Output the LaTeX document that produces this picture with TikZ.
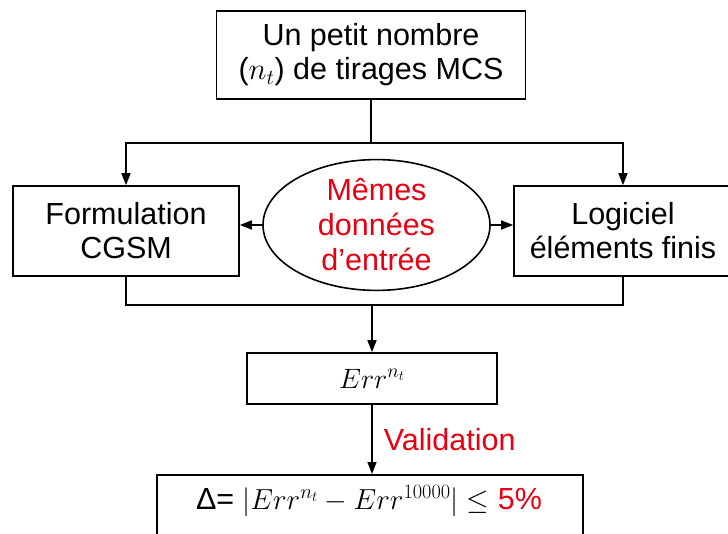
\RequirePackage{fix-cm}
\documentclass[tikz,border=0pt]{standalone}
\usepackage[no-math]{fontspec}
\setmainfont{Liberation Sans}
\usetikzlibrary{arrows.meta,shapes.geometric}
\definecolor{txtred}{RGB}{230,0,18}
\begin{document}
\begin{tikzpicture}[x=1pt,y=-1pt, line width=1.6pt,
  box/.style={draw, rectangle, inner sep=0pt, align=center, font=\fontsize{30.5}{34}\selectfont},
  arr/.style={-{Triangle[length=12pt,width=9pt]}},
  lbl/.style={font=\fontsize{30.5}{34}\selectfont}
]
\useasboundingbox (0,0) rectangle (728,533);
\node[box, minimum width=309, minimum height=88] (top) at (371,55) {Un petit nombre\\($n_t$) de tirages MCS};
\node[box, minimum width=226, minimum height=90] (left) at (126,231) {Formulation\\CGSM};
\node[box, minimum width=218, minimum height=90] (right) at (623,231) {Logiciel\\éléments finis};
\node[draw, ellipse, minimum width=227, minimum height=128, inner sep=0pt, text=txtred, align=center,
  font=\fontsize{30.5}{35}\selectfont] (same) at (376.5,225) {Mêmes\\données\\d’entrée};
\node[box, minimum width=250, minimum height=51, font=\fontsize{28}{30}\selectfont] (err) at (372,378.5) {$Err^{n_t}$};
\node[draw, rectangle, inner sep=0pt, minimum width=426, minimum height=80, anchor=north] (delta) at (370,474) {};
\node[lbl, anchor=center] (deltatext) at (369,501) {Δ={\fontsize{29}{30}\selectfont$\;|Err^{n_t}-Err^{10000}|\leq$} \textcolor{txtred}{5\%}};
\node[lbl, anchor=west, text=txtred, inner sep=0pt] (val) at (383,440) {Validation};
% connectors
\coordinate (split) at (top.south |- 0,143);
\draw (top.south) -- (split);
\draw[arr] (split) -| (left.north);
\draw[arr] (split) -| (right.north);
\draw[arr] (same.west) -- (same.west -| left.east);
\draw[arr] (same.east) -- (same.east -| right.west);
\coordinate (merge) at (err.north |- 0,305);
\draw (left.south) |- (merge);
\draw (right.south) |- (merge);
\draw[arr] (merge) -- (err.north);
\draw[arr] (err.south) -- (delta.north -| err.south);
\end{tikzpicture}
\end{document}
